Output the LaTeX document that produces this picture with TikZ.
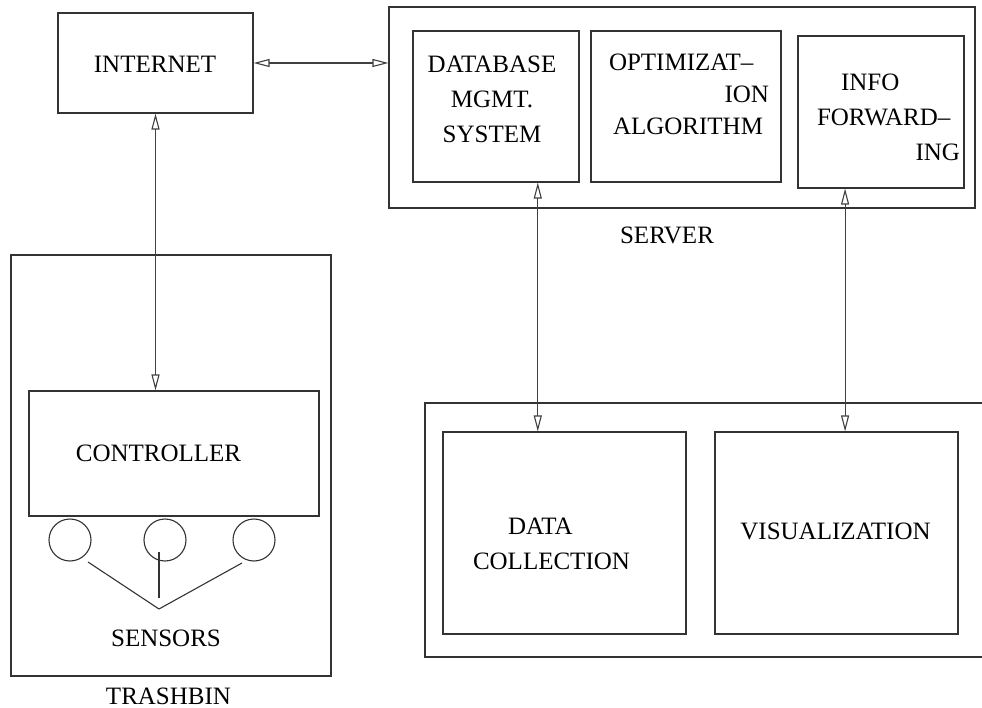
\documentclass[tikz,border=0pt]{standalone}
\usepackage{fontspec}
\setmainfont{Liberation Serif}
\usetikzlibrary{arrows.meta,calc}

\begin{document}
\begin{tikzpicture}[x=1pt,y=-1pt,
  box/.style={draw=black!80,line width=1.1pt,inner sep=0pt},
  lbl/.style={inner sep=0pt,font=\fontsize{25}{35}\selectfont},
  sensor/.style={draw=black!80,line width=1.1pt,circle,inner sep=0pt,minimum size=42pt},
  wire/.style={draw=black!80,line width=1.1pt},
  link/.style={draw=black!75,line width=1.1pt,
    {Triangle[open,length=16pt,width=8pt]}-{Triangle[open,length=16pt,width=8pt]}}]
  \path[use as bounding box,clip] (0,0) rectangle (982,708);
  % internet
  \node[box,minimum width=195pt,minimum height=100pt] (internet) at (155.5,63) {};
  \node[lbl] (tinternet) at (155,64) {INTERNET};
  % server and its parts
  \node[box,minimum width=586pt,minimum height=201pt] (server) at (682,107.5) {};
  \node[box,minimum width=166pt,minimum height=151pt] (db) at (496,106.5) {};
  \node[box,minimum width=190pt,minimum height=151pt] (optim) at (686,106.5) {};
  \node[box,minimum width=166pt,minimum height=152pt] (info) at (881,112) {};
  \node[lbl,align=center] (tdb) at (492,99) {DATABASE\\MGMT.\\SYSTEM};
  \node[lbl,align=left,text width=160pt] (toptim) at (689,94)
    {OPTIMIZAT--\\[-3pt]\hspace*{\fill}ION\\[-3pt]\hspace*{4pt}ALGORITHM};
  \node[lbl,align=left,text width=143pt] (tinfo) at (888.5,117.5)
    {\hspace*{24pt}INFO\\FORWARD--\\\hspace*{\fill}ING};
  \node[lbl] (tserver) at (667,235) {SERVER};
  % trashbin
  \node[box,minimum width=320pt,minimum height=421pt] (trashbin) at (171,465.5) {};
  \node[box,minimum width=290pt,minimum height=125pt] (controller) at (174,453.5) {};
  \node[lbl] (tcontroller) at (158.5,453) {CONTROLLER};
  \node[sensor] (s1) at (70,540) {};
  \node[sensor] (s2) at (165,540) {};
  \node[sensor] (s3) at (254,540) {};
  \coordinate (fork) at (159,609);
  \draw[wire] (fork) -- ++(-71,-47);
  \draw[wire] (fork) -- ++(83,-46);
  \draw[wire] ($(fork)+(0,-11)$) -- ++(0,-46);
  \node[lbl] (tsensors) at (166,638) {SENSORS};
  \node[lbl] (ttrashbin) at (168.5,696) {TRASHBIN};
  % front end
  \node[box,minimum width=600pt,minimum height=254pt] (frontend) at (725,530) {};
  \node[box,minimum width=243pt,minimum height=202pt] (dc) at (564.5,533) {};
  \node[box,minimum width=243pt,minimum height=202pt] (vis) at (836.5,533) {};
  \node[lbl,align=left,text width=156pt] (tdc) at (551,544)
    {\hspace*{35pt}DATA\\COLLECTION};
  \node[lbl] (tvis) at (835.5,531) {VISUALIZATION};
  % links
  \coordinate (dbtap) at ($(db.south)!.5!(db.south east)$);
  \coordinate (infotap) at ($(info.south west)!.57!(info.south)$);
  \draw[link] (internet.east) -- (internet.east -| server.west);
  \draw[link] (internet.south) -- (internet.south |- controller.north);
  \draw[link] (dbtap) -- (dbtap |- dc.north);
  \draw[link] (infotap) -- (infotap |- vis.north);
\end{tikzpicture}
\end{document}
